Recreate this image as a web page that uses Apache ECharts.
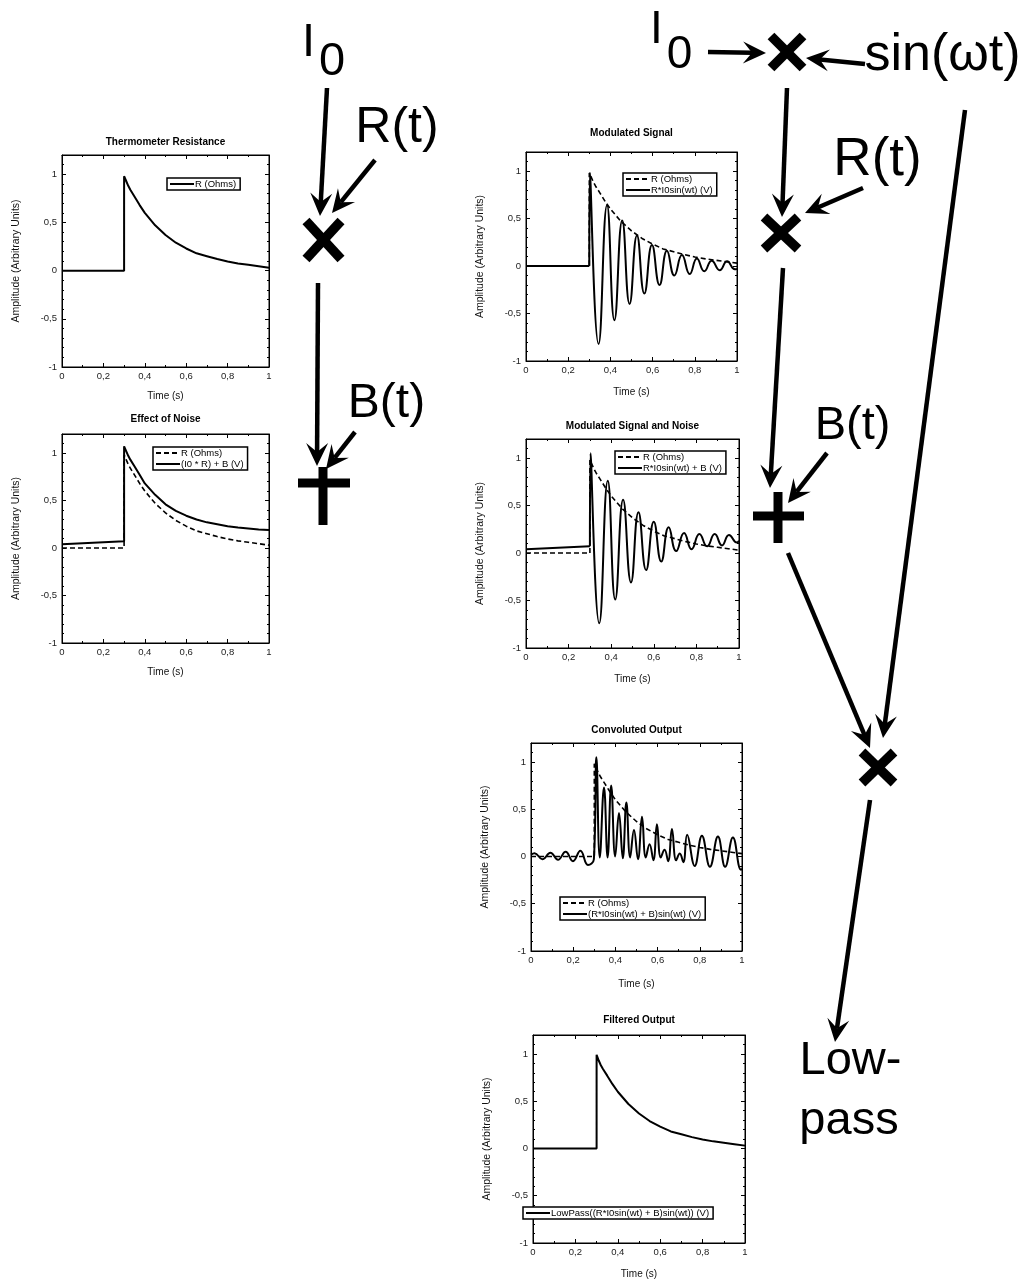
<!DOCTYPE html>
<html>
<head>
<meta charset="utf-8">
<script src="https://cdn.jsdelivr.net/npm/echarts@6/dist/echarts.min.js"></script>
<style>
html,body{margin:0;padding:0;background:#fff;}
#chart{width:1019px;height:1280px;}
</style>
</head>
<body>
<div id="chart"></div>
<script>
// ---------------- data ----------------
const chartTitles = ['Thermometer Resistance', 'Effect of Noise', 'Modulated Signal',
  'Modulated Signal and Noise', 'Convoluted Output', 'Filtered Output'];
const xTicks = [0, 0.2, 0.4, 0.6, 0.8, 1];
const yTicks = [-1, -0.5, 0, 0.5, 1];

// thermometer resistance R(t)  [time s, value]
const resistance = [[0,0],[0.3,0],[0.3,0.98],[0.31,0.93],[0.32,0.88],[0.33,0.84],[0.35,0.77],
  [0.375,0.68],[0.4,0.60],[0.45,0.47],[0.5,0.37],[0.55,0.29],[0.6,0.23],[0.65,0.18],
  [0.7,0.15],[0.75,0.12],[0.8,0.095],[0.85,0.075],[0.9,0.06],[0.95,0.045],[1.0,0.03]];

// (I0 * R) + B
const noisySignal = [[0,0.04],[0.3,0.07],[0.3,1.07],[0.31,1.02],[0.32,0.97],[0.33,0.93],[0.35,0.86],
  [0.375,0.77],[0.4,0.68],[0.45,0.56],[0.5,0.46],[0.55,0.39],[0.6,0.34],[0.65,0.30],
  [0.7,0.27],[0.75,0.25],[0.8,0.23],[0.85,0.215],[0.9,0.205],[0.95,0.195],[1.0,0.19]];

// R*I0 sin(wt): flat part then oscillation extrema
const modulatedFlat = [[0,0],[0.3,0]];
const modulatedOsc = [[0.3,0],[0.303,0.98],[0.344,-0.82],[0.384,0.64],[0.419,-0.57],[0.456,0.48],
  [0.491,-0.40],[0.526,0.32],[0.561,-0.29],[0.597,0.22],[0.633,-0.20],[0.668,0.16],
  [0.703,-0.10],[0.739,0.115],[0.776,-0.085],[0.81,0.08],[0.845,-0.055],[0.88,0.055],
  [0.918,-0.045],[0.953,0.05],[0.99,-0.035],[1.0,-0.03]];

// R*I0 sin(wt) + B
const modNoiseFlat = [[0,0.04],[0.3,0.07]];
const modNoiseOsc = [[0.3,0.07],[0.303,1.05],[0.344,-0.74],[0.384,0.76],[0.419,-0.49],[0.456,0.56],
  [0.493,-0.31],[0.528,0.43],[0.564,-0.18],[0.6,0.33],[0.635,-0.09],[0.67,0.27],
  [0.705,0.02],[0.742,0.21],[0.777,0.04],[0.814,0.20],[0.85,0.07],[0.886,0.20],
  [0.92,0.08],[0.953,0.19],[0.99,0.11],[1.0,0.13]];

// (R*I0 sin(wt) + B) sin(wt)
const convolved = [[0,0.02],[0.017,0.035],[0.054,-0.03],[0.092,0.04],[0.128,-0.035],[0.164,0.05],
  [0.199,-0.05],[0.234,0.06],[0.27,-0.09],[0.298,-0.03],[0.31,1.05],[0.326,-0.01],[0.346,0.73],
  [0.363,-0.01],[0.38,0.75],[0.399,0.0],[0.417,0.46],[0.435,-0.02],[0.452,0.57],[0.47,-0.01],
  [0.488,0.28],[0.507,-0.03],[0.526,0.42],[0.544,-0.01],[0.562,0.13],[0.58,-0.04],[0.597,0.34],
  [0.615,-0.01],[0.633,0.07],[0.65,-0.05],[0.668,0.29],[0.688,-0.04],[0.705,0.03],[0.722,-0.06],
  [0.74,0.23],[0.776,-0.10],[0.81,0.22],[0.848,-0.11],[0.886,0.21],[0.92,-0.11],[0.957,0.20],
  [0.995,-0.14],[1.0,-0.13]];

// LowPass(...)
const filtered = [[0,0],[0.3,0],[0.3,0.99],[0.31,0.93],[0.32,0.88],[0.33,0.84],[0.35,0.77],
  [0.375,0.68],[0.4,0.60],[0.45,0.47],[0.5,0.37],[0.55,0.29],[0.6,0.23],[0.65,0.18],
  [0.7,0.15],[0.75,0.12],[0.8,0.095],[0.85,0.075],[0.9,0.06],[0.95,0.045],[1.0,0.03]];

const legendLabels = {
  r1: 'R (Ohms)', r2: 'R (Ohms)', r3: 'R (Ohms)', r4: 'R (Ohms)', r5: 'R (Ohms)',
  n2: '(I0 * R) + B (V)',
  m3: 'R*I0sin(wt) (V)',
  m4: 'R*I0sin(wt) + B (V)',
  c5: '(R*I0sin(wt) + B)sin(wt) (V)',
  f6: 'LowPass((R*I0sin(wt) + B)sin(wt)) (V)'
};

// ---------------- layout ----------------
const FONT = "'Liberation Sans', Arial, Helvetica, sans-serif";
const grids = [
  {left:62, top:155, width:207, height:212},
  {left:62, top:434, width:207, height:209},
  {left:526, top:152, width:211, height:209},
  {left:526, top:439, width:213, height:209},
  {left:531, top:743, width:211, height:208},
  {left:533, top:1035, width:212, height:208}
];
const titleTops = [137, 414, 128, 421, 725, 1015];
const xNameGaps = [24, 24, 26, 26, 28, 26];
const legendPos = [
  {left:167, top:178}, {left:153, top:447}, {left:623, top:173},
  {left:615, top:451}, {left:560, top:897}, {left:523, top:1207}
];
const legendData = [['r1'], ['r2','n2'], ['r3','m3'], ['r4','m4'], ['r5','c5'], ['f6']];

function fmt(v){ return String(Math.round(v*10)/10).replace('.', ','); }
function yfmt(v){
  const ok = yTicks.some(t => Math.abs(t - v) < 1e-6);
  return ok ? fmt(v) : '';
}

const xAxes = [], yAxes = [], titles = [], legends = [];
grids.forEach((g, i) => {
  const common = {
    gridIndex: i, type: 'value', splitLine: {show: false},
    axisLine: {show: true, onZero: false, lineStyle: {color: '#000', width: 1}},
    axisTick: {show: true, inside: true, length: 4, lineStyle: {color: '#000'}},
  };
  const xMinor = {show: true, splitNumber: 2, length: 2, lineStyle: {color: '#000'}};
  const yMinor = {show: true, splitNumber: 5, length: 2, lineStyle: {color: '#000'}};
  xAxes.push(Object.assign({}, common, {
    position: 'bottom', min: 0, max: 1, interval: 0.2, minorTick: xMinor,
    axisLabel: {formatter: fmt, fontSize: 9.5, color: '#222', margin: 4, fontFamily: FONT},
    name: 'Time (s)', nameLocation: 'middle', nameGap: xNameGaps[i],
    nameTextStyle: {fontSize: 10, color: '#111', fontFamily: FONT}
  }));
  xAxes.push(Object.assign({}, common, {
    position: 'top', min: 0, max: 1, interval: 0.2, minorTick: xMinor,
    axisLabel: {show: false}
  }));
  yAxes.push(Object.assign({}, common, {
    position: 'left', min: -1, max: 1.2, interval: 0.5, minorTick: yMinor,
    axisLabel: {formatter: yfmt, fontSize: 9.5, color: '#222', margin: 5, fontFamily: FONT, showMaxLabel: false},
    name: 'Amplitude (Arbitrary Units)', nameLocation: 'middle', nameGap: 40, nameRotate: 90,
    nameTextStyle: {fontSize: 10.5, color: '#111', fontFamily: FONT}
  }));
  yAxes.push(Object.assign({}, common, {
    position: 'right', min: -1, max: 1.2, interval: 0.5, minorTick: yMinor,
    axisLabel: {show: false}
  }));
  titles.push({
    text: chartTitles[i], left: g.left + g.width / 2, top: titleTops[i], textAlign: 'center',
    textStyle: {fontSize: 10, fontWeight: 'bold', color: '#000', fontFamily: FONT}, padding: 0
  });
  legends.push({
    data: legendData[i], left: legendPos[i].left, top: legendPos[i].top, orient: 'vertical',
    borderColor: '#000', borderWidth: 1.5, backgroundColor: '#fff', padding: [1, 4, 1, 2],
    itemGap: 1, itemWidth: 24, itemHeight: 9, selectedMode: false,
    itemStyle: {color: 'rgba(0,0,0,0)', borderWidth: 0},
    formatter: n => legendLabels[n],
    textStyle: {fontSize: 9.5, color: '#000', fontFamily: FONT, padding: [0,0,0,-4]}
  });
});

const solid = {color: '#000', width: 2, type: 'solid'};
const dashed = {color: '#000', width: 1.6, type: [5, 3]};
function line(name, gi, data, style, smooth, z){
  return {name, type: 'line', xAxisIndex: 2*gi, yAxisIndex: 2*gi, data, symbol: 'none',
    lineStyle: style, itemStyle: {color: '#000'}, smooth: smooth || false, animation: false, z: z || 2};
}

const series = [
  line('r1', 0, resistance, solid),
  line('r2', 1, resistance, dashed),
  line('n2', 1, noisySignal, solid),
  line('r3', 2, resistance, dashed, false, 3),
  line('m3', 2, modulatedFlat, solid),
  line('m3', 2, modulatedOsc, solid, 0.5),
  line('r4', 3, resistance, dashed, false, 3),
  line('m4', 3, modNoiseFlat, solid),
  line('m4', 3, modNoiseOsc, solid, 0.5),
  line('r5', 4, resistance, dashed, false, 3),
  line('c5', 4, convolved, solid, 0.45),
  line('f6', 5, filtered, solid)
];

// ---------------- diagram annotations ----------------
const graphics = [];
function txt(s, x, y, size){
  graphics.push({type: 'text', z: 50, style: {text: s, x, y, font: 'normal ' + size + 'px ' + FONT,
    fill: '#000', align: 'center', verticalAlign: 'middle', textAlign: 'center', textVerticalAlign: 'middle'}});
}
function arrow(x1, y1, x2, y2){
  const dx = x2 - x1, dy = y2 - y1, len = Math.hypot(dx, dy);
  const ux = dx / len, uy = dy / len, px = -uy, py = ux;
  const L = 23, W = 11, N = 14;
  const bx = x2 - ux * L, by = y2 - uy * L, nx = x2 - ux * N, ny = y2 - uy * N;
  graphics.push({type: 'line', z: 50, shape: {x1, y1, x2: nx, y2: ny}, style: {stroke: '#000', lineWidth: 4.5}});
  graphics.push({type: 'polygon', z: 50, shape: {points: [[x2, y2], [bx + px * W, by + py * W], [nx, ny], [bx - px * W, by - py * W]]},
    style: {fill: '#000'}});
}
function cross(x0, y0, x1, y1){
  graphics.push({type: 'line', z: 50, shape: {x1: x0, y1: y0, x2: x1, y2: y1}, style: {stroke: '#000', lineWidth: 9.5}});
  graphics.push({type: 'line', z: 50, shape: {x1: x1, y1: y0, x2: x0, y2: y1}, style: {stroke: '#000', lineWidth: 9.5}});
}
function plus(hx0, hx1, hy, vx, vy0, vy1){
  graphics.push({type: 'rect', z: 50, shape: {x: hx0, y: hy - 4.5, width: hx1 - hx0, height: 9}, style: {fill: '#000'}});
  graphics.push({type: 'rect', z: 50, shape: {x: vx - 4.5, y: vy0, width: 9, height: vy1 - vy0}, style: {fill: '#000'}});
}

// left chain
txt('I', 308.5, 43, 47);
txt('0', 332, 62, 47);
txt('R(t)', 397, 128, 50);
txt('B(t)', 386.5, 404, 48);
arrow(327, 88, 320, 216);
arrow(375, 160, 332, 213);
cross(306, 221, 341, 259);
arrow(318, 283, 317, 466);
arrow(355, 432, 326, 469);
plus(298, 350, 483, 323, 467, 525);

// right chain
txt('I', 656.5, 30, 46);
txt('0', 679.5, 55, 46);
txt('sin(\u03c9t)', 942.5, 56, 52);
txt('R(t)', 877.5, 160, 53);
txt('B(t)', 852.5, 426, 47);
txt('Low-', 850.5, 1061, 47);
txt('pass', 849, 1121, 47);
arrow(708, 52, 766, 53);
arrow(865, 64, 806, 58);
cross(771, 36, 803, 68);
arrow(787, 88, 782, 217);
arrow(863, 188, 805, 213);
cross(764, 217, 798, 249);
arrow(783, 268, 770, 488);
arrow(827, 453, 788, 503);
plus(753, 804, 516, 778, 492, 543);
arrow(788, 553, 870, 748);
arrow(965, 110, 883, 738);
cross(862, 752, 894, 783);
arrow(870, 800, 835, 1042);

const chart = echarts.init(document.getElementById('chart'), null, {renderer: 'canvas'});
chart.setOption({
  backgroundColor: '#fff',
  animation: false,
  title: titles,
  legend: legends,
  grid: grids.map(g => Object.assign({show: true, borderColor: '#000', borderWidth: 1, backgroundColor: 'transparent'}, g)),
  xAxis: xAxes,
  yAxis: yAxes,
  series: series,
  graphic: graphics
});
</script>
</body>
</html>
